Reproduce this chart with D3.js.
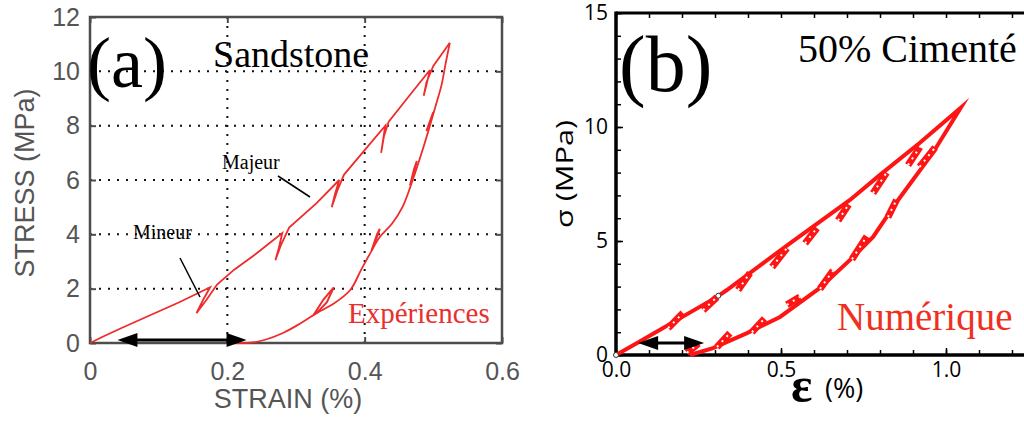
<!DOCTYPE html>
<html>
<head>
<meta charset="utf-8">
<script src="https://cdn.jsdelivr.net/npm/d3@7"></script>
<style>
  html, body { margin: 0; padding: 0; background: #fff; }
  svg { display: block; }
</style>
</head>
<body>
<div id="chart"></div>
<script>
// ---- panel (a) : sandstone experiment ----
var strainTicksA = [0, 0.2, 0.4, 0.6];
var stressTicksA = [0, 2, 4, 6, 8, 10, 12];
// loading branch with the small unload/reload cycles
var loadA = [[0, 0], [0.02, 0.25], [0.05, 0.6], [0.09, 1.05], [0.13, 1.5], [0.175, 2.05],
  [0.165, 1.6], [0.155, 1.1], [0.17, 1.6], [0.185, 2.15], [0.21, 2.7], [0.24, 3.25],
  [0.28, 4.05], [0.275, 3.5], [0.27, 3.05], [0.278, 3.6], [0.29, 4.25], [0.33, 5.15],
  [0.363, 6.0], [0.357, 5.5], [0.352, 5.0], [0.36, 5.6], [0.37, 6.2], [0.40, 7.1],
  [0.43, 8.0], [0.427, 7.5], [0.424, 7.0], [0.428, 7.6], [0.435, 8.15], [0.465, 9.1],
  [0.495, 10.05], [0.49, 9.5], [0.486, 9.1], [0.49, 9.6], [0.50, 10.2], [0.524, 11.05]];
var unloadA = [[0.524, 11.05], [0.518, 10.3], [0.512, 9.5], [0.503, 8.7], [0.495, 8.0],
  [0.483, 7.0], [0.47, 6.0], [0.455, 5.0], [0.44, 4.4], [0.422, 3.9], [0.408, 3.3],
  [0.395, 2.7], [0.379, 1.95], [0.355, 1.45], [0.33, 1.1], [0.305, 0.7], [0.281, 0.37],
  [0.255, 0.12], [0.237, 0.02], [0.21, 0]];
var branchesA = [
  [[0.326, 1.05], [0.34, 1.6], [0.355, 2.05], [0.345, 1.5], [0.33, 1.1]],
  [[0.41, 3.4], [0.418, 4.0], [0.422, 4.2], [0.415, 3.7]],
  [[0.466, 5.8], [0.472, 6.4], [0.476, 6.7], [0.47, 6.1]],
  [[0.49, 7.8], [0.497, 8.3], [0.50, 8.5]]
];

// ---- panel (b) : 50% cemented, numerical ----
var strainTicksB = [0, 0.5, 1.0];
var stressTicksB = [0, 5, 10, 15];
var loadB = [[0, 0], [0.064, 0.53], [0.306, 2.55], [0.336, 2.85], [0.527, 4.9],
  [0.709, 6.8], [0.8, 7.9], [0.92, 9.3], [1.045, 10.85]];
var unloadB = [[1.045, 10.85], [0.96, 8.86], [0.855, 6.8], [0.779, 5.18], [0.715, 4.25],
  [0.618, 2.94], [0.497, 1.67], [0.397, 0.96], [0.294, 0.3], [0.224, 0]];
var cyclesLoadB = [
  [[0.158, 1.18], [0.203, 1.84]], [[0.264, 1.97], [0.306, 2.54]],
  [[0.37, 2.85], [0.406, 3.6]], [[0.473, 3.86], [0.518, 4.69]],
  [[0.573, 4.9], [0.609, 5.57]], [[0.673, 5.9], [0.705, 6.6]],
  [[0.779, 7.1], [0.82, 8.0]], [[0.885, 8.33], [0.921, 9.12]]
];
var cyclesUnloadB = [
  [[0.215, 0.1], [0.25, 0.5]], [[0.306, 0.35], [0.345, 0.96]],
  [[0.412, 1.0], [0.45, 1.6]], [[0.518, 2.2], [0.557, 2.55]],
  [[0.618, 2.9], [0.658, 3.7]], [[0.715, 4.2], [0.76, 5.2]],
  [[0.824, 6.05], [0.85, 6.8]], [[0.92, 8.25], [0.967, 9.1]]
];
var markersB = [[0, 0], [0.31, 2.6]];

var svg = d3.select('#chart').append('svg').attr('width', 1024).attr('height', 421);

// ================= panel (a) =================
var xA = d3.scaleLinear().domain([0, 0.6]).range([90, 502]);
var yA = d3.scaleLinear().domain([0, 12]).range([343, 17]);
var gA = svg.append('g');
var grey = '#4d4d4d';

// dotted grid
gA.selectAll('line.gx').data(strainTicksA.slice(1, -1)).enter().append('line')
  .attr('x1', xA).attr('x2', xA).attr('y1', yA(12)).attr('y2', yA(0))
  .attr('stroke', '#111').attr('stroke-width', 2).attr('stroke-dasharray', '2,7');
gA.selectAll('line.gy').data(stressTicksA.slice(1, -1)).enter().append('line')
  .attr('y1', yA).attr('y2', yA).attr('x1', xA(0)).attr('x2', xA(0.6))
  .attr('stroke', '#111').attr('stroke-width', 2).attr('stroke-dasharray', '2,7');

// box
gA.append('rect').attr('x', xA(0)).attr('y', yA(12))
  .attr('width', xA(0.6) - xA(0)).attr('height', yA(0) - yA(12))
  .attr('fill', 'none').attr('stroke', grey).attr('stroke-width', 2.5);

var axisStyleA = function(g) {
  g.select('.domain').remove();
  g.selectAll('.tick line').attr('stroke', grey).attr('stroke-width', 2);
  g.selectAll('.tick text').attr('fill', '#555').style('font-family', 'Liberation Sans, Arial, sans-serif')
    .style('font-size', '25px');
};
gA.append('g').attr('transform', 'translate(0,' + yA(0) + ')')
  .call(d3.axisBottom(xA).tickValues(strainTicksA).tickFormat(function(d) { return String(d); })
    .tickSizeInner(-6).tickSizeOuter(0).tickPadding(19))
  .call(axisStyleA);
gA.append('g').attr('transform', 'translate(' + xA(0) + ',0)')
  .call(d3.axisLeft(yA).tickValues(stressTicksA).tickFormat(d3.format('d'))
    .tickSizeInner(-6).tickSizeOuter(0).tickPadding(10))
  .call(axisStyleA);
gA.append('g').attr('transform', 'translate(0,' + yA(12) + ')')
  .call(d3.axisTop(xA).tickValues(strainTicksA).tickFormat('').tickSizeInner(-6).tickSizeOuter(0))
  .call(axisStyleA);
gA.append('g').attr('transform', 'translate(' + xA(0.6) + ',0)')
  .call(d3.axisRight(yA).tickValues(stressTicksA).tickFormat('').tickSizeInner(-6).tickSizeOuter(0))
  .call(axisStyleA);

// axis titles
gA.append('text').attr('x', 288).attr('y', 408).attr('text-anchor', 'middle')
  .attr('fill', '#555').style('font-family', 'Liberation Sans, Arial, sans-serif').style('font-size', '27px')
  .text('STRAIN (%)');
gA.append('text').attr('transform', 'translate(34,183) rotate(-90)').attr('text-anchor', 'middle')
  .attr('fill', '#555').style('font-family', 'Liberation Sans, Arial, sans-serif').style('font-size', '27px')
  .text('STRESS (MPa)');

// curves
var lineA = d3.line().x(function(d) { return xA(d[0]); }).y(function(d) { return yA(d[1]); });
var redA = '#ef2b2b';
gA.append('path').attr('d', lineA(loadA)).attr('fill', 'none').attr('stroke', redA).attr('stroke-width', 1.8);
gA.append('path').attr('d', lineA.curve(d3.curveCatmullRom)(unloadA)).attr('fill', 'none').attr('stroke', redA).attr('stroke-width', 1.8);
lineA.curve(d3.curveLinear);
gA.selectAll('path.br').data(branchesA).enter().append('path')
  .attr('d', lineA).attr('fill', 'none').attr('stroke', redA).attr('stroke-width', 2);

// annotations
var serif = 'Liberation Serif, Times New Roman, serif';
gA.append('text').attr('x', 87).attr('y', 87).style('font-family', serif).style('font-size', '72px').text('(a)');
gA.append('text').attr('x', 213).attr('y', 67).style('font-family', serif).style('font-size', '38px').text('Sandstone');
gA.append('text').attr('x', 222).attr('y', 169).style('font-family', serif).style('font-size', '20px').text('Majeur');
gA.append('text').attr('x', 133).attr('y', 239).style('font-family', serif).style('font-size', '20px').text('Mineur');
gA.append('line').attr('x1', 278).attr('y1', 176).attr('x2', 310).attr('y2', 197).attr('stroke', '#000').attr('stroke-width', 1.5);
gA.append('line').attr('x1', 180).attr('y1', 258).attr('x2', 200).attr('y2', 297).attr('stroke', '#000').attr('stroke-width', 1.5);
gA.append('text').attr('x', 348).attr('y', 323).attr('fill', '#e8302f')
  .style('font-family', serif).style('font-size', '29px').text('Expériences');

function doubleArrow(g, x1, x2, y, len, half, w) {
  g.append('line').attr('x1', x1 + len - 2).attr('x2', x2 - len + 2).attr('y1', y).attr('y2', y)
    .attr('stroke', '#000').attr('stroke-width', w);
  g.append('path').attr('d', 'M' + x1 + ',' + y + 'L' + (x1 + len) + ',' + (y - half) + 'L' + (x1 + len) + ',' + (y + half) + 'Z');
  g.append('path').attr('d', 'M' + x2 + ',' + y + 'L' + (x2 - len) + ',' + (y - half) + 'L' + (x2 - len) + ',' + (y + half) + 'Z');
}
doubleArrow(gA, xA(0.04), xA(0.228), 340, 20, 7, 3);

// ================= panel (b) =================
var xB = d3.scaleLinear().domain([0, 1.5]).range([616, 1111]);
var yB = d3.scaleLinear().domain([0, 15]).range([355, 13]);
var gB = svg.append('g');
var sansB = 'Open Sans, Noto Sans, sans-serif';

var minorX = d3.range(0, 1.45, 0.1);
var minorY = d3.range(0, 15.5, 1);
var axisStyleB = function(g) {
  g.select('.domain').remove();
  g.selectAll('.tick line').attr('stroke', '#000').attr('stroke-width', 1.5);
  g.selectAll('.tick text').attr('fill', '#000').style('font-family', sansB).style('font-size', '21px');
};
gB.append('g').attr('transform', 'translate(0,' + yB(0) + ')')
  .call(d3.axisBottom(xB).tickValues(minorX).tickFormat('').tickSizeInner(-5).tickSizeOuter(0)).call(axisStyleB);
gB.append('g').attr('transform', 'translate(0,' + yB(0) + ')')
  .call(d3.axisBottom(xB).tickValues(strainTicksB).tickFormat(d3.format('.1f'))
    .tickSizeInner(-7).tickSizeOuter(0).tickPadding(7)).call(axisStyleB);
gB.append('g').attr('transform', 'translate(0,' + yB(15) + ')')
  .call(d3.axisTop(xB).tickValues(minorX).tickFormat('').tickSizeInner(-5).tickSizeOuter(0)).call(axisStyleB);
gB.append('g').attr('transform', 'translate(' + xB(0) + ',0)')
  .call(d3.axisLeft(yB).tickValues(minorY).tickFormat('').tickSizeInner(-5).tickSizeOuter(0)).call(axisStyleB);
gB.append('g').attr('transform', 'translate(' + xB(0) + ',0)')
  .call(d3.axisLeft(yB).tickValues(stressTicksB).tickFormat(d3.format('d'))
    .tickSizeInner(-7).tickSizeOuter(0).tickPadding(8)).call(axisStyleB);

// frame lines
gB.append('line').attr('x1', xB(0)).attr('x2', 1024).attr('y1', yB(0)).attr('y2', yB(0)).attr('stroke', '#000').attr('stroke-width', 3.5);
gB.append('line').attr('x1', xB(0)).attr('x2', 1024).attr('y1', yB(15)).attr('y2', yB(15)).attr('stroke', '#000').attr('stroke-width', 3);
gB.append('line').attr('x1', xB(0)).attr('x2', xB(0)).attr('y1', yB(15) - 1.5).attr('y2', yB(0) + 1.75).attr('stroke', '#000').attr('stroke-width', 3.5);

// curves
var lineB = d3.line().x(function(d) { return xB(d[0]); }).y(function(d) { return yB(d[1]); });
var redB = '#ff1414';
gB.append('path').attr('d', lineB(loadB.concat(unloadB.slice(1))))
  .attr('fill', 'none').attr('stroke', redB).attr('stroke-width', 4)
  .attr('stroke-linejoin', 'miter').attr('stroke-miterlimit', 12);
var cycles = cyclesLoadB.concat(cyclesUnloadB);
gB.selectAll('path.cy').data(cycles).enter().append('path')
  .attr('d', lineB).attr('fill', 'none').attr('stroke', redB).attr('stroke-width', 7);
gB.selectAll('path.cyw').data(cycles).enter().append('path')
  .attr('d', lineB).attr('fill', 'none').attr('stroke', '#fff').attr('stroke-width', 2)
  .attr('stroke-dasharray', '2,5');
gB.selectAll('circle.mk').data(markersB).enter().append('circle')
  .attr('cx', function(d) { return xB(d[0]); }).attr('cy', function(d) { return yB(d[1]); })
  .attr('r', 2.5).attr('fill', '#fff').attr('stroke', '#333').attr('stroke-width', 1);

// labels
gB.append('text').attr('transform', 'translate(573,174) rotate(-90)').attr('text-anchor', 'middle')
  .attr('textLength', 108).attr('lengthAdjust', 'spacingAndGlyphs')
  .style('font-family', sansB).style('font-size', '24px').text('σ  (MPa)');
gB.append('text').attr('x', 791).attr('y', 402).style('font-family', serif).style('font-size', '50px')
  .style('font-weight', 'bold').text('ε');
gB.append('text').attr('x', 825).attr('y', 398).attr('font-size', 27)
  .style('font-family', sansB).style('font-size', '27px').text('(%)');
gB.append('text').attr('x', 619).attr('y', 91).style('font-family', serif).style('font-size', '80px').text('(b)');
gB.append('text').attr('x', 798).attr('y', 62).style('font-family', serif).style('font-size', '40px').text('50% Cimenté');
gB.append('text').attr('x', 837).attr('y', 330).attr('fill', '#f0301f')
  .style('font-family', serif).style('font-size', '39px').text('Numérique');
doubleArrow(gB, xB(0.067), xB(0.267), 343, 20, 7, 3);
</script>
</body>
</html>
